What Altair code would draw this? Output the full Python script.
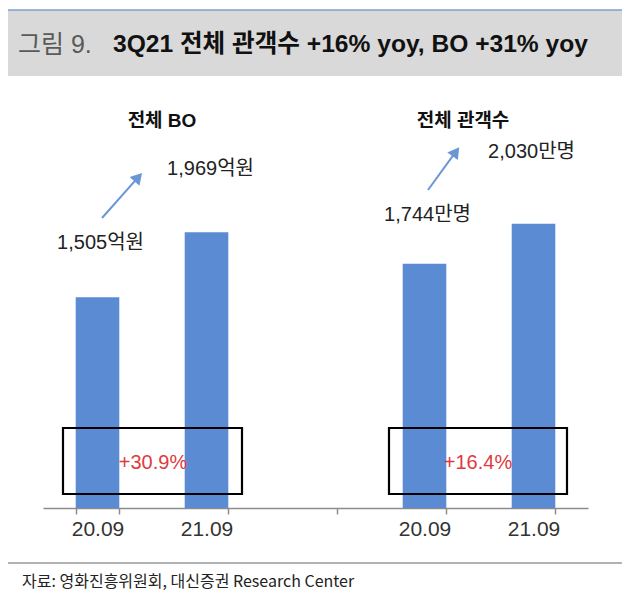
import altair as alt
import pandas as pd

# ---- data ----
keys = ["20.09", "21.09", "\u200b", "20.09\u200b", "21.09\u200b"]
values = [1505, 1969, None, 1744, 2030]
value_labels = ["1,505억원", "1,969억원", "", "1,744만명", "2,030만명"]
panel_titles = ["전체 BO", "전체 관객수"]
growth_labels = ["+30.9%", "+16.4%"]
title_prefix = "그림 9."
title_main = "3Q21 전체 관객수 +16% yoy, BO +31% yoy"
source_text = "자료: 영화진흥위원회, 대신증권 Research Center"

FONT = "Liberation Sans, Noto Sans CJK KR"
BLUE = "#5b8bd2"

df = pd.DataFrame({"key": keys, "value": values, "label": value_labels})
bars_df = df.dropna(subset=["value"])

one = pd.DataFrame({"k": [0]})

xenc = alt.X(
    "key:N",
    sort=keys,
    scale=alt.Scale(domain=keys, paddingInner=0.6, paddingOuter=0.3),
    axis=alt.Axis(
        title=None, labelAngle=0, tickBand="extent", domainColor="#8c8c8c",
        tickColor="#8c8c8c", tickSize=6, labelFontSize=21, labelColor="#333333",
        labelFont=FONT, labelPadding=4, domainWidth=1.5, tickWidth=1.5,
    ),
)
yenc = alt.Y("value:Q", scale=alt.Scale(domain=[0, 3000]), axis=None)

bars = alt.Chart(bars_df).mark_bar(color=BLUE).encode(x=xenc, y=yenc)

layers = []

# banner
layers.append(alt.Chart(one).mark_rect(color="#d9d9d9").encode(
    x=alt.value(-38), x2=alt.value(582), y=alt.value(-78), y2=alt.value(-12)))
layers.append(alt.Chart(one).mark_rule(color="#7e9fcc", strokeWidth=1.5).encode(
    x=alt.value(-38), x2=alt.value(582), y=alt.value(-78)))
layers.append(alt.Chart(one).mark_text(
    text=title_prefix, align="left", baseline="middle", fontSize=25,
    font=FONT, color="#5a5a5a").encode(x=alt.value(-25), y=alt.value(-43)))
layers.append(alt.Chart(one).mark_text(
    text=title_main, align="left", baseline="middle", fontSize=24.6, fontWeight="bold",
    font=FONT, color="#111111").encode(x=alt.value(70), y=alt.value(-43)))

# panel titles
for t, px in zip(panel_titles, [119, 420]):
    layers.append(alt.Chart(one).mark_text(
        text=t, align="center", baseline="middle", fontSize=19, fontWeight="bold",
        font=FONT, color="#111111").encode(x=alt.value(px), y=alt.value(33)))

layers.append(bars)

# value labels
label_shift = {0: (3, -54), 1: (4, -63), 3: (3, -49), 4: (-2, -72)}
for i, (ddx, ddy) in label_shift.items():
    layers.append(alt.Chart(df.iloc[[i]]).mark_text(
        align="center", baseline="middle", fontSize=20, font=FONT,
        color="#222222", dx=ddx, dy=ddy).encode(x=xenc, y=yenc, text="label:N"))

# arrows
arrows = [((59, 130), (95.3, 89.2), 41.7), ((385, 102), (412.9, 63.7), 36)]
for (x0, y0), (x1, y1), ang in arrows:
    layers.append(alt.Chart(one).mark_rule(color="#6b96d6", strokeWidth=2).encode(
        x=alt.value(x0), y=alt.value(y0), x2=alt.value(x1), y2=alt.value(y1)))
    layers.append(alt.Chart(one).mark_point(
        shape="triangle-up", filled=True, size=170, angle=ang, color="#6b96d6",
        opacity=1).encode(x=alt.value(x1), y=alt.value(y1)))

# growth boxes
for (bx0, bx1), txt, tx in zip([(20, 199), (346, 524)], growth_labels, [110, 435]):
    layers.append(alt.Chart(one).mark_rect(
        fillOpacity=0, stroke="#000000", strokeWidth=2.2).encode(
        x=alt.value(bx0), x2=alt.value(bx1), y=alt.value(340), y2=alt.value(406)))
    layers.append(alt.Chart(one).mark_text(
        text=txt, align="center", baseline="middle", fontSize=20, font=FONT,
        color="#e03a3e").encode(x=alt.value(tx), y=alt.value(375)))

# footer
layers.append(alt.Chart(one).mark_rule(color="#666666", strokeWidth=1).encode(
    x=alt.value(-36), x2=alt.value(582), y=alt.value(475)))
layers.append(alt.Chart(one).mark_text(
    text=source_text, align="left", baseline="middle", fontSize=16,
    font="Noto Sans CJK KR", color="#222222").encode(x=alt.value(-21), y=alt.value(494)))

chart = alt.layer(*layers).properties(
    width=545, height=420,
    autosize=alt.AutoSizeParams(type="none"),
    padding={"left": 35, "top": 80, "right": 34, "bottom": 84},
).configure_view(strokeWidth=0)

chart.save("out.html", embed_options={"renderer": "svg", "actions": False})
